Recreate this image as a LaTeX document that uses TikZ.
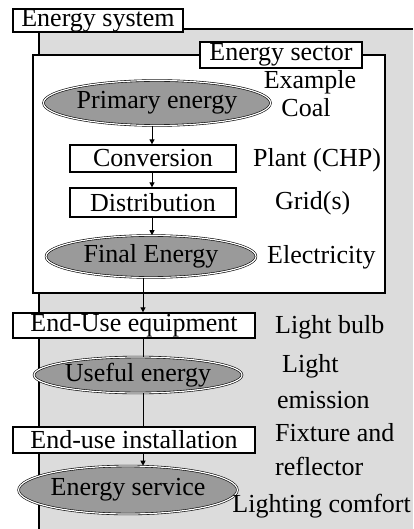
\documentclass[tikz,border=0pt]{standalone}
\usepackage{fontspec}
\setmainfont{Liberation Serif}
\usetikzlibrary{shapes.geometric,arrows.meta}
\definecolor{bggray}{HTML}{DCDCDC}
\definecolor{ellgray}{HTML}{9A9A9A}
\tikzset{
  x=1pt,y=-1pt,
  txt/.style={font=\fontsize{26}{28}\selectfont, inner sep=0pt},
  box/.style={txt, draw=black, line width=1.3pt, fill=white, rectangle},
  ell/.style={txt, ellipse, draw=black, line width=0.6pt, double=white, double distance=1.2pt, fill=ellgray},
  lab/.style={txt, anchor=west},
  conn/.style={line width=1pt},
  arr/.style={conn, -{Triangle[length=5pt,width=5pt]}},
}
\begin{document}
\begin{tikzpicture}
\useasboundingbox (0,0) rectangle (413,529);
% gray energy system area
\fill[bggray] (39,29) rectangle (413,529);
\draw[line width=1.3pt] (39,529) -- (39,29) -- (413,29);
\node[box, minimum width=170pt, minimum height=23pt] (sys) at (98,20.5) {Energy system};
% energy sector
\node[draw=black, line width=1.5pt, fill=white, minimum width=352pt, minimum height=238pt, inner sep=0pt] (sector) at (209,174) {};
\node[box, minimum width=162pt, minimum height=26pt] (seclab) at (281,55) {Energy sector};
\node[txt] (example) at (310,82) {Example};
\node[txt] (coal) at (306,108) {Coal};
% chain
\node[ell, minimum width=206pt, minimum height=45pt] (prim) at (157,103) {Primary energy};
\node[box, minimum width=166pt, minimum height=27pt] (conv) at (153,158.5) {Conversion};
\node[box, minimum width=166pt, minimum height=29pt] (dist) at (153,202.5) {Distribution};
\node[ell, minimum width=210pt, minimum height=42pt] (final) at (151,256.5) {Final Energy};
\node[box, minimum width=242pt, minimum height=25pt] (eue) at (134,325.5) {End-Use equipment};
\node[ell, minimum width=208pt, minimum height=36pt] (useful) at (138,375) {Useful energy};
\node[box, minimum width=242pt, minimum height=26pt] (eui) at (134,440) {End-use installation};
\node[ell, minimum width=205pt, minimum height=48pt] (serv) at (128,490) {Energy service};
% labels
\node[lab] (l1) at (253,160) {Plant (CHP)};
\node[lab] (l2) at (275,203) {Grid(s)};
\node[lab] (l3) at (267,257) {Electricity};
\node[lab] (l4) at (275,327) {Light bulb};
\node[lab] (l5a) at (282,366) {Light};
\node[lab] (l5b) at (277,400) {emission};
\node[lab] (l6a) at (275,433) {Fixture and};
\node[lab] (l6b) at (275,466) {reflector};
\node[txt, anchor=east] (l7) at (411,506) {Lighting comfort};
% connectors
\draw[arr] (prim.south -| conv.north) ++(-1,0) coordinate (a1) -- (a1 |- conv.north);
\draw[arr] ([xshift=-1pt]conv.south) -- ([xshift=-1pt]dist.north);
\draw[arr] ([xshift=-1pt]dist.south) -- ([xshift=-1pt]dist.south |- final.north);
\coordinate (c4) at (143,0);
\draw[arr] (c4 |- final.south) -- (c4 |- eue.north);
\draw[conn] (c4 |- eue.south) -- (c4 |- useful.north);
\draw[conn] (c4 |- useful.south) -- (c4 |- eui.north);
\draw[arr] (c4 |- eui.south) -- (c4 |- serv.north);
\end{tikzpicture}
\end{document}
